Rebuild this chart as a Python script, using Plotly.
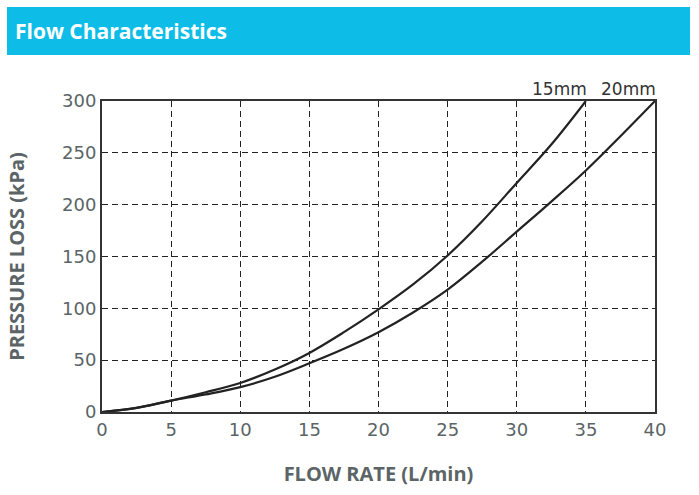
import plotly.graph_objects as go

# Data
flow_15mm = [0, 2.5, 5, 7.5, 10, 12.5, 15, 17.5, 20, 22.5, 25, 27.5, 30, 32.5, 35]
loss_15mm = [0, 4, 11, 19, 28, 41, 57, 77, 99, 123, 151, 184, 221, 258, 300]
flow_20mm = [0, 2.5, 5, 7.5, 10, 12.5, 15, 17.5, 20, 22.5, 25, 27.5, 30, 32.5, 35, 37.5, 40]
loss_20mm = [0, 4, 11, 17, 24, 34, 47, 61, 77, 96, 118, 145, 174, 203, 233, 266, 300]
series_names = ["15mm", "20mm"]
x_ticks = [0, 5, 10, 15, 20, 25, 30, 35, 40]
y_ticks = [0, 50, 100, 150, 200, 250, 300]

W, H = 699, 495
L, R, T, B = 102, 44, 101, 83
pw, ph = W - L - R, H - T - B

def px_x(p):
    return (p - L) / pw

def px_y(p):
    return (H - B - p) / ph

fig = go.Figure()
for fx, fy, nm in [(flow_15mm, loss_15mm, series_names[0]), (flow_20mm, loss_20mm, series_names[1])]:
    fig.add_trace(go.Scatter(x=fx, y=fy, name=nm, mode="lines",
                             line=dict(color="#222222", width=2.2, shape="spline"),
                             showlegend=False, hoverinfo="skip"))
    fig.add_annotation(x=fx[-1], y=fy[-1], xref="x", yref="y", text=nm, showarrow=False,
                       xanchor="right", yanchor="bottom", xshift=3, yshift=0,
                       font=dict(family="DejaVu Sans", size=17, color="#333333"))

tick_font = dict(family="DejaVu Sans", size=18, color="#5b6466")
title_font = dict(family="Open Sans", size=20, color="#5b6466", weight="bold")

axis_common = dict(showline=True, mirror=True, linecolor="#333333", linewidth=2,
                   showgrid=True, gridcolor="#222222", gridwidth=1, griddash="6px,4px",
                   zeroline=False, ticks="", tickfont=tick_font)

fig.update_xaxes(range=[0, 40], tickvals=x_ticks, **axis_common,
                 title=dict(text="FLOW RATE (L/min)", font=title_font, standoff=28))
fig.update_yaxes(range=[0, 300], tickvals=y_ticks, **axis_common,
                 title=dict(text="PRESSURE LOSS (kPa)", font=title_font, standoff=32))

# Header banner
fig.add_shape(type="rect", xref="paper", yref="paper",
              x0=px_x(7), x1=px_x(690), y0=px_y(55), y1=px_y(7),
              fillcolor="#0dbde8", line=dict(width=0), layer="above")
fig.add_annotation(xref="paper", yref="paper", x=px_x(13), y=px_y(31), text="<b>Flow Characteristics</b>",
                   showarrow=False, xanchor="left", yanchor="middle",
                   font=dict(family="Open Sans", size=21, color="white"))

fig.update_layout(width=W, height=H, margin=dict(l=L, r=R, t=T, b=B),
                  paper_bgcolor="white", plot_bgcolor="white")

fig.write_html("out.html", config={"displayModeBar": False},
               post_script="document.body.style.margin='0';")
